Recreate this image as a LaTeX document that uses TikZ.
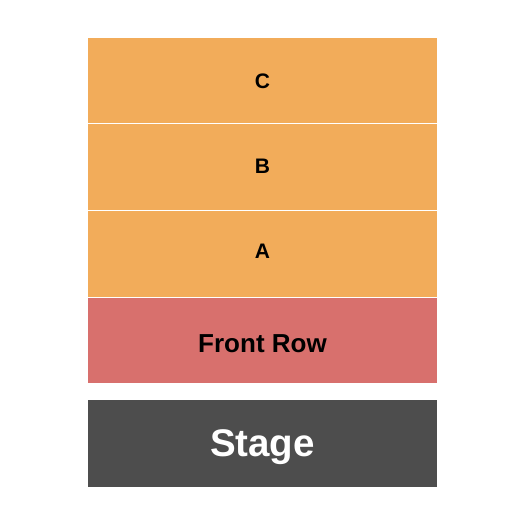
\documentclass[tikz,border=0pt]{standalone}
\usepackage{fontspec}
\setmainfont{Liberation Sans}
\definecolor{sec}{HTML}{F2AC5A}
\definecolor{front}{HTML}{D8706D}
\definecolor{stagec}{HTML}{4D4D4D}
\begin{document}
\begin{tikzpicture}[x=1pt,y=-1pt,
  secbox/.style={draw=none,minimum width=349pt,anchor=north west,inner sep=0pt},
  lbl/.style={anchor=base,inner sep=0pt,font=\bfseries\fontsize{21}{21}\selectfont},
]
\useasboundingbox (0,0) rectangle (525,525);
\fill[white] (0,0) rectangle (525,525);
\node[secbox,fill=sec,minimum height=85pt] (c) at (88,38) {};
\node[secbox,fill=sec,minimum height=86pt] (b) at (88,124) {};
\node[secbox,fill=sec,minimum height=86pt] (a) at (88,211) {};
\node[secbox,fill=front,minimum height=85pt] (fr) at (88,298) {};
\node[secbox,fill=stagec,minimum height=87pt] (st) at (88,400) {};
\node[lbl] (cl) at (262.5,88) {C};
\node[lbl] (bl) at (262.5,173.5) {B};
\node[lbl] (al) at (262.5,258) {A};
\node[lbl,font=\bfseries\fontsize{26}{26}\selectfont] (frl) at (262.5,352.5) {Front Row};
\node[lbl,text=white,font=\bfseries\fontsize{38.5}{38.5}\selectfont] (stl) at (262.5,456) {Stage};
\end{tikzpicture}
\end{document}
